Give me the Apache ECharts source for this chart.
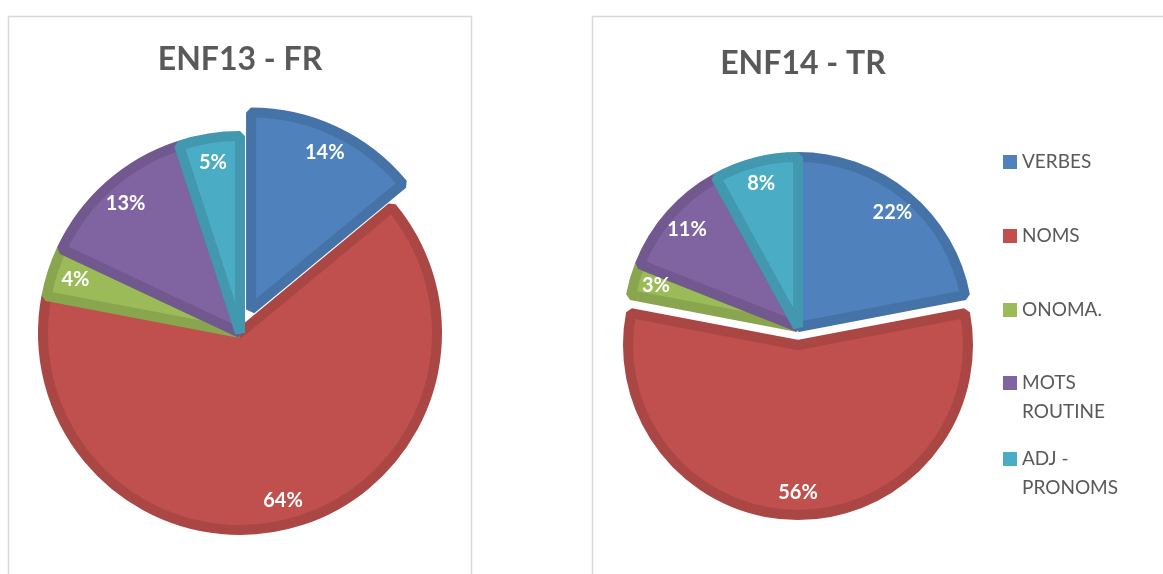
<!DOCTYPE html>
<html>
<head>
<meta charset="utf-8">
<script src="https://cdn.jsdelivr.net/npm/echarts@6/dist/echarts.min.js"></script>
<style>
  html, body { margin: 0; padding: 0; background: #ffffff; }
  #chart { width: 1163px; height: 574px; }
</style>
</head>
<body>
<div id="chart"></div>
<script>
// ---- data ----
const categories = ['VERBES', 'NOMS', 'ONOMA.', 'MOTS ROUTINE', 'ADJ - PRONOMS'];
const legendLabels = ['VERBES', 'NOMS', 'ONOMA.', 'MOTS\nROUTINE', 'ADJ -\nPRONOMS'];
const enf13Values = [14, 64, 4, 13, 5];
const enf14Values = [22, 56, 3, 11, 8];
const enf13Exploded = 'VERBES';
const enf14Exploded = 'NOMS';
const titles = ['ENF13 - FR', 'ENF14 - TR'];

// ---- styles ----
const fillColors = ['#4F81BD', '#C0504D', '#9BBB59', '#8064A2', '#4BACC6'];
const bandColors = ['#4572A7', '#AA4643', '#89A54E', '#71588F', '#4198AF'];
const textGray = '#595959';
const font = 'Lato, "Open Sans", sans-serif';

function mainData(values, exploded) {
  return categories.map((c, i) => ({
    name: c,
    value: values[i],
    selected: c === exploded,
    itemStyle: { color: fillColors[i], borderColor: bandColors[i] }
  }));
}
function labelData(values, exploded) {
  return categories.map((c, i) => ({
    name: c,
    value: values[i],
    selected: c === exploded
  }));
}

const band = 10;
function pieSeries(values, exploded, center, R, labelR0, offset) {
  return [
    {
      type: 'pie',
      center: center,
      radius: [0, R - band / 2],
      startAngle: 90,
      clockwise: true,
      selectedMode: 'single',
      selectedOffset: offset,
      silent: true,
      label: { show: false },
      labelLine: { show: false },
      itemStyle: { borderWidth: band, borderJoin: 'bevel' },
      emphasis: { disabled: true },
      data: mainData(values, exploded)
    },
    {
      type: 'pie',
      center: center,
      radius: [labelR0, R],
      startAngle: 90,
      clockwise: true,
      selectedMode: 'single',
      selectedOffset: offset,
      silent: true,
      z: 5,
      itemStyle: { color: 'rgba(0,0,0,0)', borderWidth: 0 },
      label: {
        show: true,
        position: 'inside',
        rotate: 0,
        formatter: '{c}%',
        color: '#ffffff',
        fontFamily: font,
        fontWeight: 'bold',
        fontSize: 20,
        textBorderWidth: 0
      },
      labelLine: { show: false },
      emphasis: { disabled: true },
      data: labelData(values, exploded)
    }
  ];
}

const squareIcon = 'path://M0,0L14,0L14,14L0,14Z';
const tallIcon = 'path://M0,0L14,0L14,14L0,14Z M0,42L0.01,42L0.01,42.01Z';
const legendTops = [152, 226, 300, 368, 444];

const legends = categories.map((c, i) => {
  const twoLine = legendLabels[i].indexOf('\n') >= 0;
  return {
    left: 1003,
    top: legendTops[i],
    orient: 'vertical',
    padding: 0,
    itemWidth: 14,
    itemHeight: twoLine ? 42 : 14,
    icon: twoLine ? tallIcon : squareIcon,
    selectedMode: false,
    itemStyle: { borderWidth: 0 },
    formatter: () => legendLabels[i],
    textStyle: {
      fontFamily: font,
      fontSize: 19,
      color: textGray,
      lineHeight: twoLine ? 29 : 20
    },
    data: [c]
  };
});

const chart = echarts.init(document.getElementById('chart'), null, { renderer: 'canvas' });
chart.setOption({
  animation: false,
  backgroundColor: '#ffffff',
  title: [
    { text: titles[0], left: 240, top: 44, textAlign: 'center', padding: 0,
      textStyle: { fontFamily: font, fontWeight: 'bold', fontSize: 32, color: textGray } },
    { text: titles[1], left: 803, top: 48, textAlign: 'center', padding: 0,
      textStyle: { fontFamily: font, fontWeight: 'bold', fontSize: 32, color: textGray } }
  ],
  legend: legends,
  graphic: [
    { type: 'rect', silent: true, shape: { x: 8.5, y: 16.5, width: 463, height: 620 },
      style: { fill: 'none', stroke: '#d9d9d9', lineWidth: 1.5 } },
    { type: 'rect', silent: true, shape: { x: 592.5, y: 16.5, width: 620, height: 620 },
      style: { fill: 'none', stroke: '#d9d9d9', lineWidth: 1.5 } }
  ],
  series: [
    ...pieSeries(enf13Values, enf13Exploded, [240, 333], 202, 138, 26),
    ...pieSeries(enf14Values, enf14Exploded, [798, 327], 175, 115, 18)
  ]
});
</script>
</body>
</html>
